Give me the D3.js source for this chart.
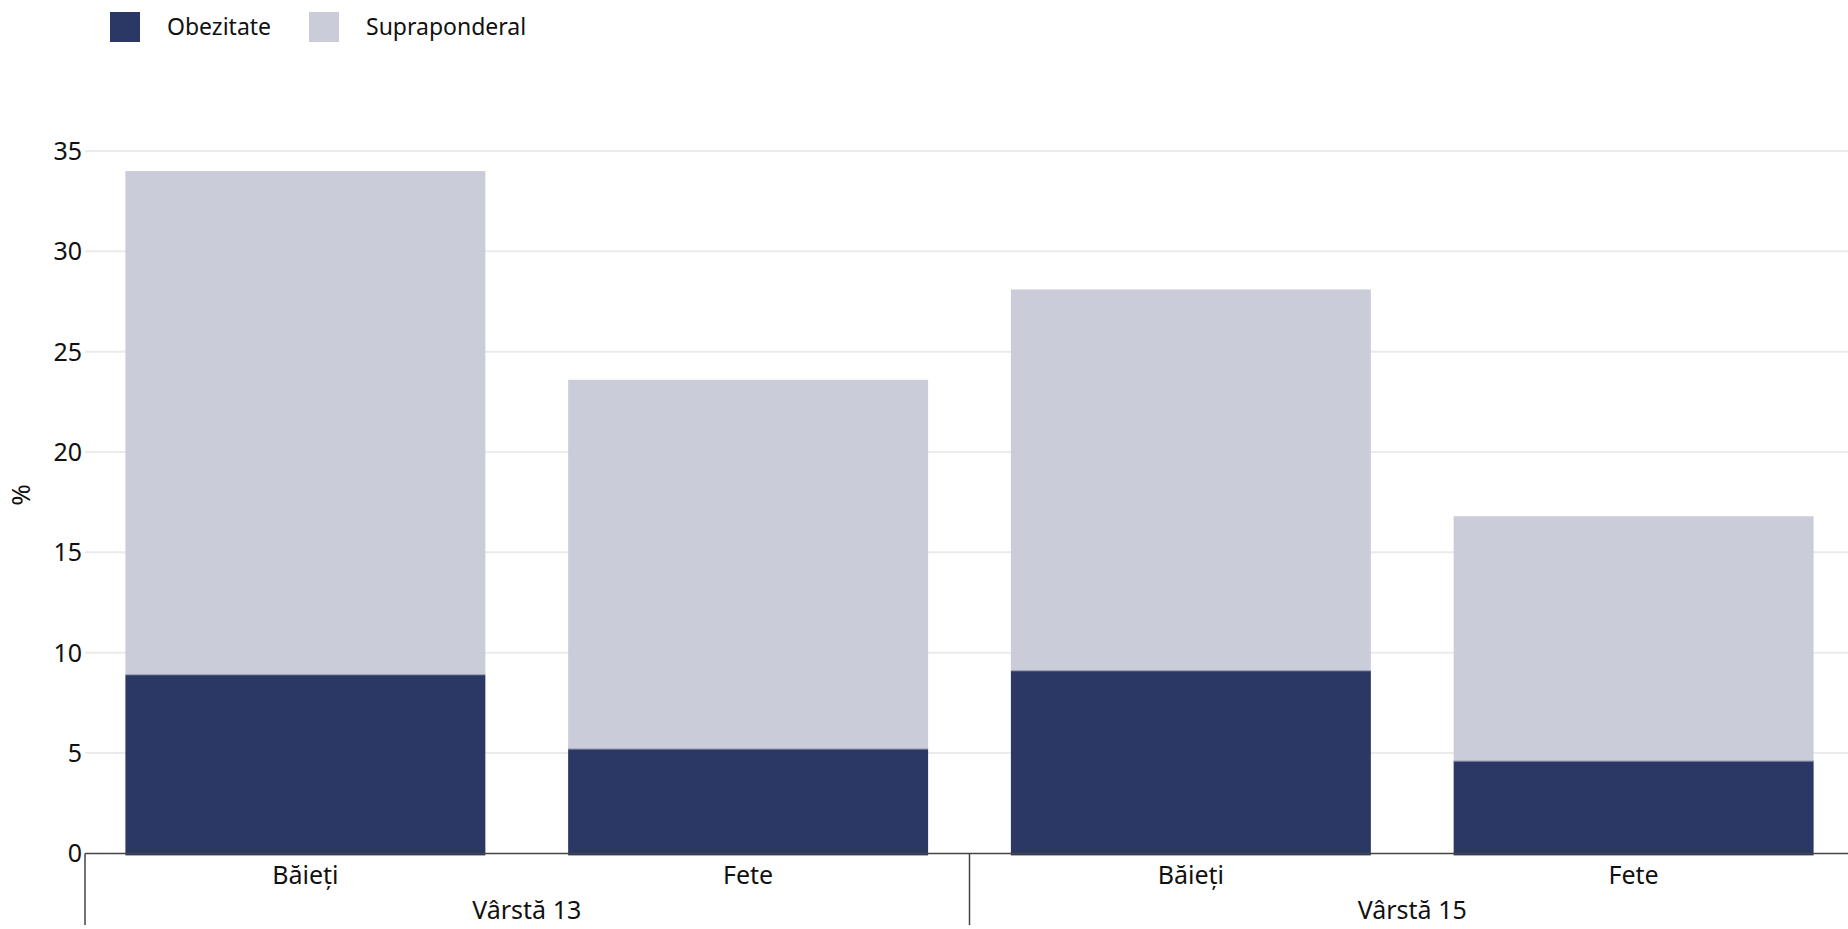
<!DOCTYPE html>
<html>
<head>
<meta charset="utf-8">
<script src="https://cdn.jsdelivr.net/npm/d3@7"></script>
<style>
  body { margin: 0; background: #fff; }
  text { font-family: "Noto Sans", "Open Sans", sans-serif; fill: #111; }
</style>
</head>
<body>
<div id="canvas"></div>
<script>
// Data
var categories = ["Băieți", "Fete", "Băieți", "Fete"];
var groups = ["Vârstă 13", "Vârstă 13", "Vârstă 15", "Vârstă 15"];
var obezitate = [8.9, 5.2, 9.1, 4.6];
var supraponderal = [25.1, 18.4, 19.0, 12.2]; // stacked on top of obezitate
var seriesNames = ["Obezitate", "Supraponderal"];
var seriesColors = ["#2b3865", "#cacdd9"];
var yTicks = [0, 5, 10, 15, 20, 25, 30, 35];

var width = 1848, height = 929;
var svg = d3.select("#canvas").append("svg")
  .attr("width", width)
  .attr("height", height);

// Scales
var x = d3.scaleBand()
  .domain(d3.range(categories.length))
  .range([84, 1855])
  .paddingInner(0.187)
  .paddingOuter(0.0935);

var y = d3.scaleLinear()
  .domain([0, 35])
  .range([853.4, 151]);

// Gridlines
svg.append("g")
  .attr("class", "grid")
  .selectAll("line")
  .data(yTicks.filter(function (d) { return d > 0; }))
  .enter().append("line")
  .attr("x1", 85)
  .attr("x2", width)
  .attr("y1", function (d) { return y(d); })
  .attr("y2", function (d) { return y(d); })
  .style("stroke", "#ebebeb")
  .style("stroke-width", "2px");

// Y tick labels
svg.append("g")
  .selectAll("text")
  .data(yTicks)
  .enter().append("text")
  .attr("x", 82)
  .attr("y", function (d) { return y(d); })
  .attr("dy", "0.36em")
  .attr("text-anchor", "end")
  .style("font-size", "25px")
  .text(function (d) { return d; });

// Y axis title
svg.append("text")
  .attr("transform", "translate(30,495) rotate(-90)")
  .attr("text-anchor", "middle")
  .style("font-size", "26px")
  .text("%");

// Stacked bars
var stackData = categories.map(function (c, i) {
  return { i: i, obezitate: obezitate[i], supraponderal: supraponderal[i] };
});
var stack = d3.stack().keys(["obezitate", "supraponderal"])(stackData);

svg.append("g")
  .selectAll("g")
  .data(stack)
  .enter().append("g")
  .style("fill", function (d, k) { return seriesColors[k]; })
  .selectAll("rect")
  .data(function (d) { return d; })
  .enter().append("rect")
  .attr("x", function (d) { return x(d.data.i); })
  .attr("width", x.bandwidth())
  .attr("y", function (d) { return y(d[1]); })
  .attr("height", function (d) { return y(d[0]) - y(d[1]) + (d[0] === 0 ? 2 : 0); });

// Boundary line between segments
svg.append("g")
  .selectAll("line")
  .data(stackData)
  .enter().append("line")
  .attr("x1", function (d) { return x(d.i); })
  .attr("x2", function (d) { return x(d.i) + x.bandwidth(); })
  .attr("y1", function (d) { return y(d.obezitate); })
  .attr("y2", function (d) { return y(d.obezitate); })
  .style("stroke", "#8d93ad")
  .style("stroke-width", "1px");

// X axis line
svg.append("line")
  .attr("x1", 85)
  .attr("x2", width)
  .attr("y1", y(0))
  .attr("y2", y(0))
  .style("stroke", "#444")
  .style("stroke-width", "1.5px");

// Category labels
svg.append("g")
  .selectAll("text")
  .data(categories)
  .enter().append("text")
  .attr("x", function (d, i) { return x(i) + x.bandwidth() / 2; })
  .attr("y", 884)
  .attr("text-anchor", "middle")
  .style("font-size", "25px")
  .text(function (d) { return d; });

// Group labels and dividers
var groupNames = Array.from(new Set(groups));
var groupInfo = groupNames.map(function (g) {
  var idx = d3.range(groups.length).filter(function (i) { return groups[i] === g; });
  var first = idx[0], last = idx[idx.length - 1];
  return {
    name: g,
    center: (x(first) + x(last) + x.bandwidth()) / 2,
    start: x(first) - x.step() * x.paddingInner() / 2,
    end: x(last) + x.bandwidth() + x.step() * x.paddingInner() / 2
  };
});

svg.append("g")
  .selectAll("text")
  .data(groupInfo)
  .enter().append("text")
  .attr("x", function (d) { return d.center; })
  .attr("y", 919)
  .attr("text-anchor", "middle")
  .style("font-size", "25px")
  .text(function (d) { return d.name; });

var dividers = [85].concat(groupInfo.slice(0, -1).map(function (d) { return d.end; }));
svg.append("g")
  .selectAll("line")
  .data(dividers)
  .enter().append("line")
  .attr("x1", function (d) { return d; })
  .attr("x2", function (d) { return d; })
  .attr("y1", y(0))
  .attr("y2", 925)
  .style("stroke", "#444")
  .style("stroke-width", "1.5px");

// Legend
var legendX = [110, 309];
var legend = svg.append("g")
  .selectAll("g")
  .data(seriesNames)
  .enter().append("g")
  .attr("transform", function (d, i) { return "translate(" + legendX[i] + ",12)"; });

legend.append("rect")
  .attr("width", 30)
  .attr("height", 30)
  .style("fill", function (d, i) { return seriesColors[i]; });

legend.append("text")
  .attr("x", 57)
  .attr("y", 15)
  .attr("dy", "0.36em")
  .style("font-size", "23px")
  .text(function (d) { return d; });
</script>
</body>
</html>
